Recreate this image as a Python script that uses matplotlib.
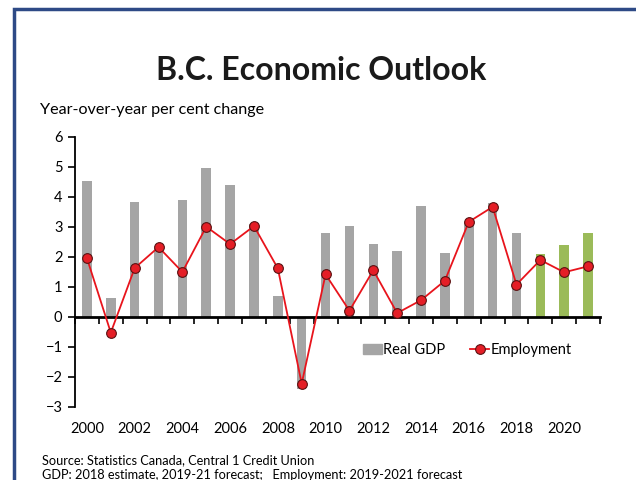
import numpy as np
import matplotlib
matplotlib.use("Agg")
import matplotlib.pyplot as plt
from matplotlib.patches import Rectangle
from matplotlib.lines import Line2D
from matplotlib.transforms import blended_transform_factory

plt.rcParams['font.family'] = ['Lato', 'DejaVu Sans']

years = list(range(2000, 2022))
real_gdp = [4.55, 0.62, 3.82, 2.3, 3.91, 4.98, 4.4, 3.1, 0.71, -2.4, 2.79,
            3.02, 2.44, 2.2, 3.69, 2.12, 3.17, 3.81, 2.79, 2.09, 2.39, 2.79]
employment = [1.96, -0.52, 1.63, 2.33, 1.5, 3.01, 2.43, 3.03, 1.62, -2.22, 1.42,
              0.21, 1.56, 0.13, 0.56, 1.21, 3.17, 3.67, 1.08, 1.9, 1.49, 1.69]
forecast_from = 2019
year_labels = [str(y) for y in range(2000, 2022, 2)]

fig = plt.figure(figsize=(6.36, 4.8), dpi=100)

# outer frame (runs off the right and bottom edges)
fig.patches.append(Rectangle((13.5 / 636, -0.1), 1.2, 1 - 8.5 / 480 + 0.1,
                             transform=fig.transFigure, fill=False,
                             edgecolor='#2E4A86', linewidth=2.5))

ax = fig.add_axes([75 / 636, 1 - 407 / 480, 525 / 636, 270 / 480])

x = np.arange(len(years))
bar_colors = ['#9BBB59' if y >= forecast_from else '#A5A5A5' for y in years]
ax.bar(x, real_gdp, width=0.4, color=bar_colors, zorder=2)
ax.plot(x, employment, color='#E8141C', linewidth=1.3, marker='o', markersize=7,
        markerfacecolor='#E41E26', markeredgecolor='#5A1212', markeredgewidth=0.8,
        zorder=3)

ax.set_xlim(-0.5, len(years) - 0.5)
ax.set_ylim(-3, 6)
ax.set_yticks(range(-3, 7))
ax.tick_params(axis='y', labelsize=10.5, length=5, width=1.2, pad=4)

for s in ['top', 'right']:
    ax.spines[s].set_visible(False)
ax.spines['left'].set_linewidth(1.3)
ax.spines['bottom'].set_linewidth(2)
ax.spines['bottom'].set_position(('data', 0))

ax.set_xticks(np.arange(len(years) + 1) - 0.5)
ax.set_xticklabels([])
ax.tick_params(axis='x', length=5, width=1.2, direction='out')

tr = blended_transform_factory(ax.transData, ax.transAxes)
for i, lab in enumerate(year_labels):
    ax.text(2 * i, -0.08, lab, transform=tr, ha='center', va='center', fontsize=10.5)

handles = [Rectangle((0, 0), 1, 1, color='#A5A5A5'),
           Line2D([], [], color='#E8141C', linewidth=1.3, marker='o', markersize=7,
                  markerfacecolor='#E41E26', markeredgecolor='#5A1212',
                  markeredgewidth=0.8)]
ax.legend(handles, ['Real GDP', 'Employment'], loc='center', ncol=2,
          bbox_to_anchor=(0.747, 0.211), frameon=False, fontsize=10.5,
          handlelength=1.3, handletextpad=0.1, columnspacing=1.7)

fig.text(321 / 636, 1 - 70 / 480, 'B.C. Economic Outlook', ha='center', va='center',
         fontsize=23, fontweight='bold', color='#1a1a1a')
fig.text(40 / 636, 1 - 110 / 480, 'Year-over-year per cent change', ha='left',
         va='center', fontsize=11.6)
fig.text(42 / 636, 1 - 460 / 480, 'Source: Statistics Canada, Central 1 Credit Union',
         ha='left', va='center', fontsize=9.2)
fig.text(42 / 636, 1 - 475 / 480,
         'GDP: 2018 estimate, 2019-21 forecast;   Employment: 2019-2021 forecast',
         ha='left', va='center', fontsize=9.2)

fig.savefig('out.png', dpi=100)
